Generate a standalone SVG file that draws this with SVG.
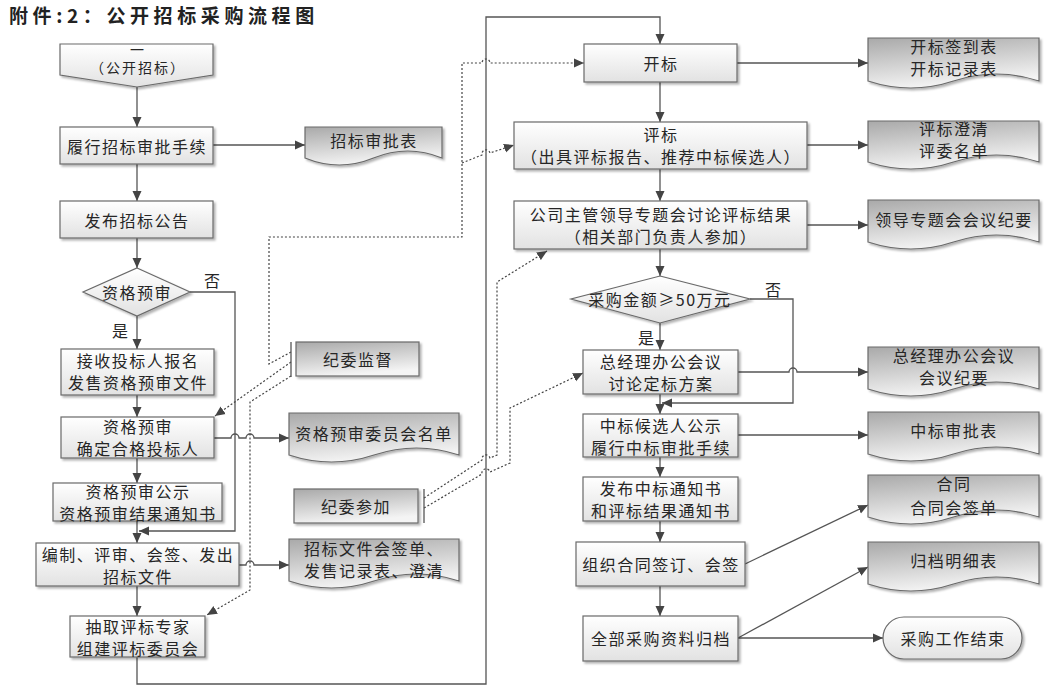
<svg xmlns="http://www.w3.org/2000/svg" width="1044" height="698" viewBox="0 0 1044 698">
<style>
.t{font-family:"Noto Sans CJK SC","Noto Sans",sans-serif;font-size:16px;fill:#262626;text-anchor:middle;dominant-baseline:central;letter-spacing:1.5px}
.lb{font-family:"Noto Sans CJK SC","Noto Sans",sans-serif;font-size:16px;fill:#262626;dominant-baseline:central}
.box{fill:url(#gBox);stroke:#6a6a6a;stroke-width:1.2;filter:url(#sh)}
.doc{fill:url(#gDoc);stroke:#6a6a6a;stroke-width:1.2;filter:url(#sh)}
.ln{fill:none;stroke:#555;stroke-width:1.3}
.ar{marker-end:url(#ah)}
.dt{fill:none;stroke:#444;stroke-width:1.2;stroke-dasharray:2 2}
</style>
<defs>
<linearGradient id="gBox" x1="0" y1="0" x2="0" y2="1"><stop offset="0" stop-color="#ffffff"/><stop offset="1" stop-color="#e2e2e2"/></linearGradient>
<linearGradient id="gDoc" x1="0" y1="0" x2="0.3" y2="1"><stop offset="0" stop-color="#a9a9a9"/><stop offset="1" stop-color="#f4f4f4"/></linearGradient>
<filter id="sh" x="-10%" y="-10%" width="130%" height="140%"><feDropShadow dx="2" dy="2" stdDeviation="1.2" flood-color="#000" flood-opacity="0.3"/></filter>
<marker id="ah" viewBox="0 0 10 10" refX="10" refY="5" markerWidth="10" markerHeight="10" markerUnits="userSpaceOnUse" orient="auto"><path d="M0,0.5 L10,5 L0,9.5 Z" fill="#444"/></marker>
</defs>
<rect width="1044" height="698" fill="#fff"/>
<text x="9" y="14" style="font-family:'Noto Sans CJK SC',sans-serif;font-size:19px;font-weight:bold;fill:#222;dominant-baseline:central;letter-spacing:4.6px">附件:2：公开招标采购流程图</text>

<g id="connectors">
<path class="ln ar" d="M137,87 V127"/>
<path class="ln ar" d="M137,164 V201"/>
<path class="ln ar" d="M137,238 V268"/>
<path class="ln ar" d="M137,316 V349"/>
<path class="ln ar" d="M137,395 V417"/>
<path class="ln ar" d="M137,458 V483"/>
<path class="ln ar" d="M137,521 V543"/>
<path class="ln ar" d="M137,586 V616"/>
<path class="ln ar" d="M190,292 H235 V531 H139"/>
<path class="ln ar" d="M137,657 V684 H486 V17 H660 V44"/>
<path class="ln ar" d="M660,82 V122"/>
<path class="ln ar" d="M660,169 V201"/>
<path class="ln ar" d="M660,249 V276"/>
<path class="ln ar" d="M660,323 V350"/>
<path class="ln ar" d="M660,394 V414"/>
<path class="ln ar" d="M660,457 V477"/>
<path class="ln ar" d="M660,521 V542"/>
<path class="ln ar" d="M660,586 V616"/>
<path class="ln ar" d="M750,299 H793 V403 H662"/>
<path class="ln ar" d="M213,145 H305"/>
<path class="ln ar" d="M214,438 H231 a4,4 0 0 1 8,0 H246 a4,4 0 0 1 8,0 H289"/>
<path class="ln ar" d="M239,565 H246 a4,4 0 0 1 8,0 H289"/>
<path class="ln ar" d="M737,63 H868"/>
<path class="ln ar" d="M807,145 H868"/>
<path class="ln ar" d="M807,225 H868"/>
<path class="ln ar" d="M738,372 H789 a4,4 0 0 1 8,0 H868"/>
<path class="ln ar" d="M738,435 H868"/>
<path class="ln ar" d="M745,564 L868,505"/>
<path class="ln ar" d="M738,638 L868,567"/>
<path class="ln ar" d="M738,638 H883"/>
<path class="dt ar" d="M291,352 L269,364 V237 H462 V63 H482 a4,4 0 0 1 8,0 H584"/>
<path class="dt ar" d="M462,163 L482,155 a4,4 0 0 1 8,-2 L514,145"/>
<path class="dt ar" d="M291,362 L215,416"/>
<path class="dt ar" d="M291,376 L250,402 V590 L207,615"/>
<path class="dt ar" d="M424,498 L482,460 a4,4 0 0 1 8,-2 L497,455 V282 L547,251"/>
<path class="dt ar" d="M424,508 L482,474 a4,4 0 0 1 8,-2 L510,463 V408 L583,373"/>
</g>

<g id="n-start"><path class="box" d="M60,44 H213 V75 L137,87 L60,75 Z"/><text class="t" style="font-size:14px;letter-spacing:2px"><tspan x="138" y="48.5">一</tspan><tspan x="138" y="67">（公开招标）</tspan></text></g>
<g id="n-lvxing"><rect class="box" x="60" y="127" width="153" height="37"/><text class="t" x="137" y="145.5">履行招标审批手续</text></g>
<g id="n-fabu"><rect class="box" x="60" y="201" width="153" height="37"/><text class="t" x="137" y="219.5">发布招标公告</text></g>
<g id="n-yushen-d"><path class="box" d="M137,268 L190,292 L137,316 L83,292 Z"/><text class="t" x="137" y="292">资格预审</text></g>
<text class="lb" x="204" y="280">否</text>
<text class="lb" x="112" y="330">是</text>
<g id="n-jieshou"><rect class="box" x="61" y="349" width="153" height="46"/><text class="t"><tspan x="138" y="360">接收投标人报名</tspan><tspan x="138" y="382">发售资格预审文件</tspan></text></g>
<g id="n-yushen"><rect class="box" x="61" y="417" width="153" height="41"/><text class="t"><tspan x="138" y="426">资格预审</tspan><tspan x="138" y="448">确定合格投标人</tspan></text></g>
<g id="n-gongshi"><rect class="box" x="53" y="483" width="169" height="38"/><text class="t"><tspan x="138" y="491">资格预审公示</tspan><tspan x="138" y="513">资格预审结果通知书</tspan></text></g>
<g id="n-bianzhi"><rect class="box" x="36" y="543" width="203" height="43"/><text class="t"><tspan x="138" y="553.5">编制、评审、会签、发出</tspan><tspan x="138" y="575.5">招标文件</tspan></text></g>
<g id="n-chouqu"><rect class="box" x="70" y="616" width="135" height="41"/><text class="t"><tspan x="138" y="625.5">抽取评标专家</tspan><tspan x="138" y="647.5">组建评标委员会</tspan></text></g>

<g id="d-shenpi"><path class="doc" d="M305,127 H442 V158 Q407.75,144 373.5,158 T305,158 Z"/><text class="t" x="374" y="140">招标审批表</text></g>
<g id="d-yushenmd"><path class="doc" d="M289,413 H459 V455 Q416.5,441 374,455 T289,455 Z"/><text class="t" x="374" y="433">资格预审委员会名单</text></g>
<g id="d-huiqian"><path class="doc" d="M289,539 H459 V581 Q416.5,567 374,581 T289,581 Z"/><text class="t"><tspan x="374" y="548">招标文件会签单、</tspan><tspan x="374" y="570">发售记录表、澄清</tspan></text></g>
<g id="n-jwjd"><rect class="doc" x="296" y="342" width="123" height="34"/><path class="ln" d="M291,342 V377"/><text class="t" x="358" y="359">纪委监督</text></g>
<g id="n-jwcj"><rect class="doc" x="294" y="489" width="124" height="34"/><path class="ln" d="M424,489 V523"/><text class="t" x="356" y="506">纪委参加</text></g>

<g id="n-kaibiao"><rect class="box" x="584" y="44" width="153" height="38"/><text class="t" x="661" y="63">开标</text></g>
<g id="n-pingbiao"><rect class="box" x="514" y="122" width="293" height="47"/><text class="t"><tspan x="661" y="134">评标</tspan><tspan x="661" y="156">（出具评标报告、推荐中标候选人）</tspan></text></g>
<g id="n-zhuguan"><rect class="box" x="514" y="201" width="293" height="48"/><text class="t"><tspan x="661" y="214">公司主管领导专题会讨论评标结果</tspan><tspan x="661" y="236">（相关部门负责人参加）</tspan></text></g>
<g id="n-jine-d"><path class="box" d="M660,276 L750,299 L660,323 L571,299 Z"/><text class="t" x="660" y="299">采购金额≥50万元</text></g>
<text class="lb" x="765" y="289">否</text>
<text class="lb" x="638" y="337">是</text>
<g id="n-zjl"><rect class="box" x="583" y="350" width="155" height="44"/><text class="t"><tspan x="661" y="361">总经理办公会议</tspan><tspan x="661" y="383">讨论定标方案</tspan></text></g>
<g id="n-zbgs"><rect class="box" x="583" y="414" width="155" height="43"/><text class="t"><tspan x="661" y="424.5">中标候选人公示</tspan><tspan x="661" y="446.5">履行中标审批手续</tspan></text></g>
<g id="n-tzs"><rect class="box" x="583" y="477" width="155" height="44"/><text class="t"><tspan x="661" y="487.5">发布中标通知书</tspan><tspan x="661" y="509.5">和评标结果通知书</tspan></text></g>
<g id="n-hetong"><rect class="box" x="576" y="542" width="169" height="44"/><text class="t" x="661" y="564">组织合同签订、会签</text></g>
<g id="n-guidang"><rect class="box" x="583" y="616" width="155" height="45"/><text class="t" x="661" y="638">全部采购资料归档</text></g>

<g id="d-kbqd"><path class="doc" d="M868,38 H1039 V81 Q996.25,67 953.5,81 T868,81 Z"/><text class="t"><tspan x="954" y="46">开标签到表</tspan><tspan x="954" y="68">开标记录表</tspan></text></g>
<g id="d-pbcq"><path class="doc" d="M868,121 H1039 V162 Q996.25,148 953.5,162 T868,162 Z"/><text class="t"><tspan x="954" y="128">评标澄清</tspan><tspan x="954" y="150">评委名单</tspan></text></g>
<g id="d-ldjy"><path class="doc" d="M868,200 H1039 V242 Q996.25,228 953.5,242 T868,242 Z"/><text class="t" x="954" y="219">领导专题会会议纪要</text></g>
<g id="d-zjljy"><path class="doc" d="M868,347 H1039 V389 Q996.25,375 953.5,389 T868,389 Z"/><text class="t"><tspan x="954" y="355">总经理办公会议</tspan><tspan x="954" y="377">会议纪要</tspan></text></g>
<g id="d-zbsp"><path class="doc" d="M868,412 H1039 V454 Q996.25,440 953.5,454 T868,454 Z"/><text class="t" x="954" y="430">中标审批表</text></g>
<g id="d-ht"><path class="doc" d="M868,475 H1039 V517 Q996.25,503 953.5,517 T868,517 Z"/><text class="t"><tspan x="954" y="483">合同</tspan><tspan x="954" y="507">合同会签单</tspan></text></g>
<g id="d-gdmx"><path class="doc" d="M868,542 H1039 V584 Q996.25,570 953.5,584 T868,584 Z"/><text class="t" x="954" y="560">归档明细表</text></g>
<g id="n-end"><rect class="box" x="883" y="617" width="139" height="42" rx="21" ry="21"/><text class="t" x="953" y="638">采购工作结束</text></g>
</svg>
